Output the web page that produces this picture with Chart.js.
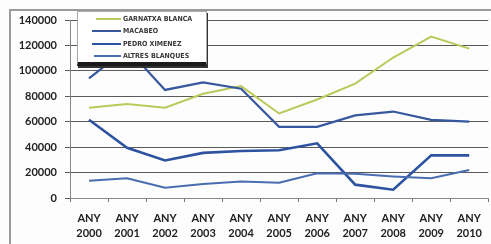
<!DOCTYPE html>
<html>
<head>
<meta charset="utf-8">
<script src="https://cdn.jsdelivr.net/npm/chart.js@4/dist/chart.umd.min.js"></script>
<style>
  html, body { margin: 0; padding: 0; background: #fff; }
  #wrap { position: relative; width: 491px; height: 244px; overflow: hidden; background: #fdfdfd; }
  #frame { position: absolute; left: 9px; top: 9px; right: -5px; bottom: -5px;
           border-left: 2px solid #9a9a9a; border-top: 2px solid #9a9a9a; }
  #myChart { position: absolute; left: 0; top: 0; }
  #legend { position: absolute; left: 77px; top: 11px; width: 128px; height: 48px;
            background: #fff; border: 1px solid #aaa; border-bottom: 4px solid #1a1a1a;
            box-shadow: 1px 2px 0 #333; padding-top: 2px; }
  .item { position: absolute; left: 0; height: 12px; width: 128px; }
  .item .swatch { position: absolute; top: 5px; height: 2px; }
  .item .txt { position: absolute; left: 45px; top: 0; font: bold 7px "Liberation Sans Narrow", "DejaVu Sans Condensed", sans-serif;
               color: #383838; line-height: 12px; white-space: nowrap; }
</style>
</head>
<body>
<div id="wrap">
  <div id="frame"></div>
  <canvas id="myChart" width="491" height="244"></canvas>
  <div id="legend"></div>
</div>
<script>
const years = ['2000', '2001', '2002', '2003', '2004', '2005', '2006', '2007', '2008', '2009', '2010'];
const seriesNames = ['GARNATXA BLANCA', 'MACABEO', 'PEDRO XIMENEZ', 'ALTRES BLANQUES'];
const garnatxaBlanca = [71000, 74000, 71000, 82000, 88000, 66500, 77500, 90000, 110500, 127000, 117500];
const macabeo = [94000, 117500, 85000, 91000, 86000, 56000, 56000, 65000, 68000, 61500, 60000];
const pedroXimenez = [61500, 39500, 29500, 35500, 37000, 37500, 43000, 10500, 6500, 33500, 33500];
const altresBlanques = [13500, 15500, 8000, 11000, 13000, 12000, 19500, 19000, 17000, 15500, 22000];
const yTicks = [0, 20000, 40000, 60000, 80000, 100000, 120000, 140000];

const colors = ['#b9c95a', '#37589f', '#2c52a0', '#4a6cb0'];
const widths = [2, 2.2, 2.6, 2];
const seriesValues = [garnatxaBlanca, macabeo, pedroXimenez, altresBlanques];

const data = {
	labels: years.map((y) => ['ANY', y]),
	datasets: seriesNames.map((name, i) => ({
		label: name,
		data: seriesValues[i],
		borderColor: colors[i],
		backgroundColor: colors[i],
		borderWidth: widths[i],
		pointRadius: 0,
		tension: 0,
		order: 3 - i
	}))
};

const tickFont = { family: 'Lato, "Open Sans", sans-serif', size: 11, weight: 'bold' };

const chart = new Chart(document.getElementById('myChart'), {
	type: 'line',
	data: data,
	options: {
		responsive: false,
		animation: false,
		layout: { padding: { top: 20, right: 0, left: 0, bottom: 0 } },
		plugins: {
			legend: { display: false },
			tooltip: { enabled: false }
		},
		scales: {
			x: {
				offset: true,
				grid: { offset: true, drawOnChartArea: false, color: '#777', tickLength: 4 },
				border: { color: '#888', width: 1 },
				ticks: { color: '#222', font: { ...tickFont, lineHeight: 1.35 }, padding: 9, maxRotation: 0, autoSkip: false },
				afterFit: (scale) => { scale.height = 46; }
			},
			y: {
				min: 0,
				max: 140000,
				afterBuildTicks: (scale) => { scale.ticks = yTicks.map((v) => ({ value: v })); },
				grid: { color: '#5a5a5a', lineWidth: 1, tickLength: 5 },
				border: { color: '#888', width: 1 },
				ticks: { color: '#222', font: tickFont, padding: 8, callback: (v) => String(v) },
				afterFit: (scale) => { scale.width = 70; }
			}
		}
	}
});

// legend overlaid on the plot, built from the series
const legend = document.getElementById('legend');
const swatchX = [18, 14, 14, 16];
seriesNames.forEach((name, i) => {
	const item = document.createElement('div');
	item.className = 'item';
	item.style.top = (1 + i * 12.3) + 'px';
	const sw = document.createElement('span');
	sw.className = 'swatch';
	sw.style.left = swatchX[i] + 'px';
	sw.style.width = (43 - swatchX[i]) + 'px';
	sw.style.background = colors[i];
	const tx = document.createElement('span');
	tx.className = 'txt';
	tx.textContent = name;
	item.appendChild(sw);
	item.appendChild(tx);
	legend.appendChild(item);
});
</script>
</body>
</html>
